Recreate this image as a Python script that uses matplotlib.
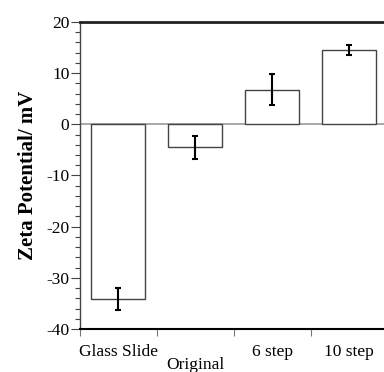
import matplotlib
matplotlib.use("Agg")
import matplotlib.pyplot as plt
from matplotlib.ticker import MultipleLocator

matplotlib.rcParams['font.family'] = ['Liberation Serif', 'DejaVu Serif']
matplotlib.rcParams['axes.unicode_minus'] = False

categories = ['Glass Slide', 'Original', '6 step', '10 step']
zeta = [-34.1, -4.5, 6.8, 14.5]
errors = [2.2, 2.3, 2.95, 1.0]

fig = plt.figure(figsize=(3.84, 3.72), dpi=100)
ax = fig.add_axes([0.208, 0.1156, 0.792, 0.8253])

pos = [i + 0.5 for i in range(len(categories))]
ax.bar(pos, zeta, width=0.7, color='white', edgecolor='#444444', linewidth=1.0, zorder=2)
ax.errorbar(pos, zeta, yerr=errors, fmt='none', ecolor='black', elinewidth=1.5,
            capsize=2.5, capthick=1.5, zorder=3)
ax.axhline(0, color='#999999', linewidth=1.2, zorder=1)

ax.set_xlim(0, 3.95)
ax.set_ylim(-40, 20)

ax.yaxis.set_major_locator(MultipleLocator(10))
ax.yaxis.set_minor_locator(MultipleLocator(2))
ax.tick_params(axis='y', which='major', direction='out', length=6.5, width=0.8,
               color='#444444', labelsize=12.5, pad=1)
ax.tick_params(axis='y', which='minor', direction='out', length=3.5, width=0.8,
               color='#444444')

ax.set_xticks(pos)
ax.set_xticklabels(categories)
ax.set_xticks([0, 1, 2, 3], minor=True)
ax.tick_params(axis='x', which='major', length=0, labelsize=12.5, pad=10.5)
ax.tick_params(axis='x', which='minor', direction='out', length=5, width=0.8,
               color='#777777')
ax.xaxis.get_major_ticks()[1].set_pad(20)

ax.spines['right'].set_visible(False)
ax.spines['top'].set_linewidth(2.0)
ax.spines['top'].set_color('#222222')
ax.spines['bottom'].set_linewidth(1.5)
ax.spines['bottom'].set_color('black')
ax.spines['left'].set_linewidth(1.0)
ax.spines['left'].set_color('#444444')

ax.set_ylabel('Zeta Potential/ mV', fontsize=15, fontweight='bold', labelpad=6)

fig.savefig('out.png', dpi=100)
